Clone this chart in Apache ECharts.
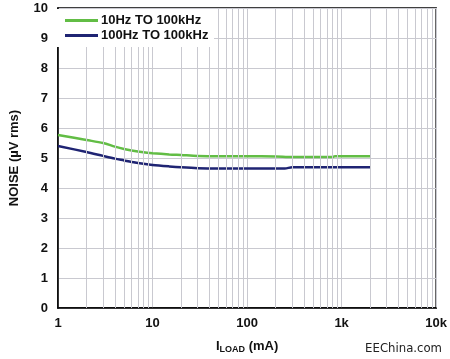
<!DOCTYPE html>
<html>
<head>
<meta charset="utf-8">
<script src="https://cdn.jsdelivr.net/npm/echarts@6/dist/echarts.min.js"></script>
<style>html,body{margin:0;padding:0;background:#fff}#c{width:450px;height:359px}</style>
</head>
<body>
<div id="c"></div>
<script>
const seriesNames = ['10Hz TO 100kHz', '100Hz TO 100kHz'];
const loadWide = [1, 2, 3, 4, 5, 6, 8, 10, 15, 20, 30, 50, 100, 200, 300, 500, 800, 850, 2000];
const noiseWide = [5.77, 5.6, 5.5, 5.38, 5.3, 5.25, 5.19, 5.16, 5.12, 5.1, 5.07, 5.06, 5.06, 5.05, 5.03, 5.03, 5.03, 5.06, 5.06];
const loadNarrow = [1, 2, 3, 4, 5, 6, 8, 10, 15, 20, 30, 50, 100, 250, 300, 2000];
const noiseNarrow = [5.40, 5.2, 5.07, 4.98, 4.92, 4.87, 4.81, 4.77, 4.72, 4.69, 4.66, 4.65, 4.65, 4.65, 4.69, 4.69];
const xTickLabels = {1: '1', 10: '10', 100: '100', 1000: '1k', 10000: '10k'};
const minorGrid = [2,3,4,5,6,7,8,9,20,30,40,50,60,70,80,90,200,300,400,500,600,700,800,900,2000,3000,4000,5000,6000,7000,8000,9000];
const yTicks = [0,1,2,3,4,5,6,7,8,9,10];

const FONT = 'Liberation Sans, Arial, sans-serif';
const gridColor = '#c9c9d0';
const chart = echarts.init(document.getElementById('c'), null, {renderer: 'canvas'});
chart.setOption({
  animation: false,
  backgroundColor: '#fff',
  grid: {left: 55, right: 12, top: 8, bottom: 46, show: true, borderColor: '#000', borderWidth: 1.5, backgroundColor: 'transparent'},
  legend: {
    data: seriesNames,
    orient: 'vertical',
    left: 65, top: 14,
    z: 30,
    padding: 0,
    itemGap: 2,
    itemWidth: 33, itemHeight: 3,
    icon: 'rect',
    textStyle: {fontFamily: FONT, fontWeight: 'bold', fontSize: 13, color: '#111', padding: [0,0,0,-2]}
  },
  xAxis: {
    type: 'log', logBase: 10, min: 1, max: 10000,
    axisLine: {show: true, lineStyle: {color: '#000', width: 1.5}},
    axisTick: {show: false},
    splitLine: {show: true, lineStyle: {color: gridColor, width: 1}},
    axisLabel: {
      fontFamily: FONT, fontWeight: 'bold', fontSize: 13, color: '#111', margin: 9,
      formatter: v => xTickLabels[Math.round(v)] || ''
    },
    name: '{i|I}{s|LOAD}{i| (mA)}',
    nameLocation: 'middle', nameGap: 30,
    nameTextStyle: {
      rich: {
        i: {fontFamily: FONT, fontWeight: 'bold', fontSize: 13, color: '#111'},
        s: {fontFamily: FONT, fontWeight: 'bold', fontSize: 9, color: '#111', padding: [7, 0, 0, 0]}
      }
    }
  },
  yAxis: {
    type: 'value', min: 0, max: 10, interval: 1,
    axisLine: {show: true, lineStyle: {color: '#000', width: 1.5}},
    axisTick: {show: false},
    splitLine: {show: true, lineStyle: {color: gridColor, width: 1}},
    axisLabel: {fontFamily: FONT, fontWeight: 'bold', fontSize: 13, color: '#111', margin: 10,
      formatter: v => yTicks.includes(v) ? String(v) : ''},
    name: 'NOISE (µV rms)', nameLocation: 'middle', nameGap: 37,
    nameTextStyle: {fontFamily: FONT, fontWeight: 'bold', fontSize: 13, color: '#111'}
  },
  graphic: [{
    type: 'rect', z: 20, silent: true,
    shape: {x: 56, y: 9, width: 158, height: 38},
    style: {fill: '#fff'}
  }, {
    type: 'text', right: 8, bottom: 4,
    style: {text: 'EEChina.com', fontFamily: 'DejaVu Sans Condensed, DejaVu Sans, sans-serif', fontSize: 13, fill: '#222'}
  }],
  series: [
    {
      name: 'minor', type: 'line', data: [], z: 1, silent: true,
      markLine: {
        silent: true, symbol: ['none', 'none'], label: {show: false},
        lineStyle: {type: 'solid', color: gridColor, width: 1},
        data: minorGrid.map(v => ({xAxis: v}))
      }
    },
    {
      name: seriesNames[0], type: 'line', z: 3, showSymbol: false, smooth: 0.3,
      color: '#62bd45', lineStyle: {width: 2.5, color: '#62bd45'},
      data: loadWide.map((x, i) => [x, noiseWide[i]])
    },
    {
      name: seriesNames[1], type: 'line', z: 3, showSymbol: false, smooth: 0.3,
      color: '#1f2473', lineStyle: {width: 2.5, color: '#1f2473'},
      data: loadNarrow.map((x, i) => [x, noiseNarrow[i]])
    }
  ]
});
</script>
</body>
</html>
